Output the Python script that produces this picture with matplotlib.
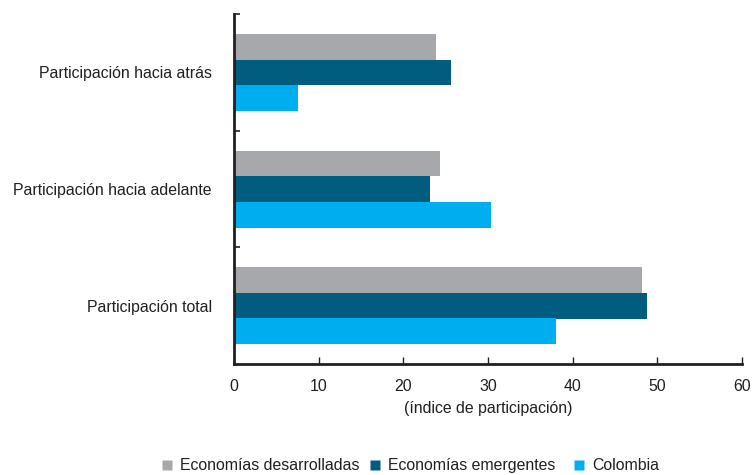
import matplotlib
matplotlib.use("Agg")
import matplotlib.pyplot as plt
from matplotlib.lines import Line2D

categories = ["Participación total", "Participación hacia adelante", "Participación hacia atrás"]
series_names = ["Economías desarrolladas", "Economías emergentes", "Colombia"]
desarrolladas = [48.2, 24.3, 23.9]
emergentes = [48.8, 23.2, 25.6]
colombia = [38.0, 30.3, 7.6]
colors = ["#A7A8AB", "#005D80", "#00AEEF"]
x_ticks = [0, 10, 20, 30, 40, 50, 60]
x_label = "(índice de participación)"

plt.rcParams['font.family'] = ['Liberation Sans', 'DejaVu Sans']
fs = 11.4
W, H = 755, 475

fig = plt.figure(figsize=(7.55, 4.75), dpi=100)
ax = fig.add_axes([234/W, 1-364/H, (742-234)/W, (364-14)/H])

h = 0.22
ys = list(range(len(categories)))
for vals, off, c in zip([desarrolladas, emergentes, colombia], [h, 0, -h], colors):
    ax.barh([y + off for y in ys], vals, height=h, color=c, edgecolor='none')

ax.set_xlim(0, 60)
ax.set_ylim(-0.5, 2.5)
ax.set_xticks(x_ticks)
ax.set_yticks(ys)
ax.set_yticklabels(categories, fontsize=fs, color='#231F20')
ax.set_yticks([0.5, 1.5, 2.5], minor=True)
ax.tick_params(axis='y', which='major', length=0, pad=16)
ax.tick_params(axis='y', which='minor', direction='in', length=4, width=1.2, color='#231F20')
ax.tick_params(axis='x', direction='in', length=5, width=1, color='#231F20', labelsize=fs, pad=11, labelcolor='#231F20')
for s in ['top', 'right']:
    ax.spines[s].set_visible(False)
for s in ['left', 'bottom']:
    ax.spines[s].set_linewidth(2)
    ax.spines[s].set_color('#231F20')
ax.set_xlabel(x_label, fontsize=fs, color='#231F20', labelpad=5)

# legend drawn manually so that all labels share one baseline
marker_x = [167, 375, 579]
text_x = [180, 388, 592]
y_mid = 465
y_base = 470
for mx, tx, name, c in zip(marker_x, text_x, series_names, colors):
    fig.add_artist(Line2D([mx/W], [1-y_mid/H], transform=fig.transFigure, marker='s',
                          linestyle='none', markersize=6.5, markerfacecolor=c, markeredgecolor='none'))
    fig.text(tx/W, 1-y_base/H, name, fontsize=fs, color='#231F20', ha='left', va='baseline')

fig.savefig("out.png", dpi=100)
